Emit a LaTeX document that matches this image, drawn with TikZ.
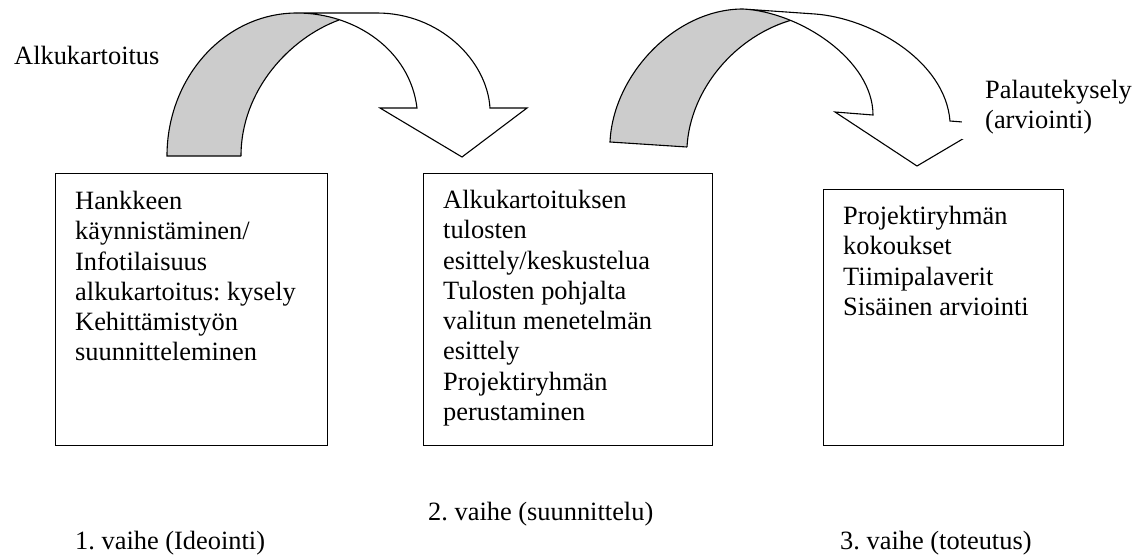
\documentclass[tikz,border=0pt]{standalone}
\usepackage{fontspec}
\setmainfont{Liberation Serif}
\definecolor{shade}{RGB}{204,204,204}
\frenchspacing
\begin{document}
\begin{tikzpicture}[x=1pt,y=-1pt,
  boxst/.style={draw, line width=1.3pt, rectangle, inner sep=0pt, anchor=north west},
  txt/.style={font=\fontsize{26.4}{30.3}\selectfont, align=left, inner sep=0pt, anchor=north west},
  lbl/.style={font=\fontsize{26.4}{30.3}\selectfont, inner sep=0pt, anchor=base west},
  band/.style={draw, line width=1.1pt, line join=miter, fill=white},
  back/.style={fill=shade},
  edge/.style={draw, line width=1.1pt}]
\useasboundingbox (0,0) rectangle (1144,557);

% arrow 1, back part
\fill[back] (167,156) .. controls (167,77) and (225,13) .. (297,13) -- (340,13) -- (339,20) .. controls (290,38) and (241,90) .. (241,156) -- cycle;
\draw[edge] (241,156) -- (167,156) .. controls (167,77) and (225,13) .. (297,13);
\draw[edge] (339,20) .. controls (290,38) and (241,90) .. (241,156);
% arrow 1, front part
\draw[band] (297,13) -- (377,13) .. controls (439,13) and (487,60) .. (490,108) -- (527,108) -- (462,157) -- (380,108) -- (417,108) .. controls (410,50) and (355,13) .. (297,13) -- cycle;

% arrow 2, back part
\fill[back] (610,142) .. controls (613,75) and (675,9) .. (743,9) -- (795,14) -- (795,20) .. controls (735,35) and (690,90) .. (687,147) -- cycle;
\draw[edge] (687,147) -- (610,142) .. controls (613,75) and (675,9) .. (743,9);
\draw[edge] (795,19) .. controls (735,35) and (690,90) .. (687,147);
% arrow 2, front part
\draw[band] (743,9) -- (815,14) .. controls (870,18) and (945,60) .. (950,121) -- (988,124) -- (917,166) -- (835,112) -- (873,115) .. controls (873,60) and (800,12) .. (743,9) -- cycle;

% boxes
\node[boxst, minimum width=272pt, minimum height=272pt] (b1) at (55,173) {};
\node[boxst, minimum width=289pt, minimum height=272pt] (b2) at (423,173) {};
\node[boxst, minimum width=240pt, minimum height=256pt] (b3) at (823,189) {};

\node[txt] (t1) at ([shift={(20,15)}]b1.north west) {\strut Hankkeen\\k\"aynnist\"aminen/\\Infotilaisuus\\alkukartoitus: kysely\\Kehitt\"amisty\"on\\suunnitteleminen};
\node[txt] (t2) at ([shift={(20,14)}]b2.north west) {\strut Alkukartoituksen\\tulosten\\esittely/keskustelua\\Tulosten pohjalta\\valitun menetelm\"an\\esittely\\Projektiryhm\"an\\perustaminen};
\node[txt] (t3) at ([shift={(20,14)}]b3.north west) {\strut Projektiryhm\"an\\kokoukset\\Tiimipalaverit\\Sis\"ainen arviointi};

% labels
\node[txt, fill=white, inner xsep=23pt, inner ysep=5pt] (pal) at (962,72) {\strut Palautekysely\\(arviointi)};
\node[lbl] (alku) at (14,64) {Alkukartoitus};
\node[lbl] (v1) at (75,549) {1. vaihe (Ideointi)};
\node[lbl] (v2) at (428,520) {2. vaihe (suunnittelu)};
\node[lbl] (v3) at (840,549) {3. vaihe (toteutus)};
\end{tikzpicture}
\end{document}
